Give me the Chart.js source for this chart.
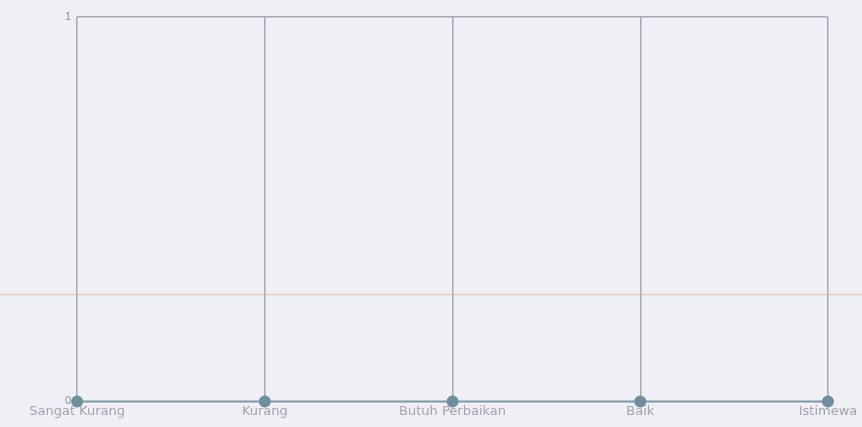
<!DOCTYPE html>
<html>
<head>
<meta charset="utf-8">
<script src="https://cdn.jsdelivr.net/npm/chart.js@4/dist/chart.umd.min.js"></script>
<style>
  html, body { margin: 0; padding: 0; background: #efeff6; }
  #wrap { width: 862px; height: 427px; position: relative; }
</style>
</head>
<body>
<div id="wrap"><canvas id="c"></canvas></div>
<script>
const categories = ['Sangat Kurang', 'Kurang', 'Butuh Perbaikan', 'Baik', 'Istimewa'];
const values = [0, 0, 0, 0, 0];
const yTicks = [0, 1];
const scanLineValue = 0.28;

// faint reddish streak across the whole scan
const scanLine = {
  id: 'scanLine',
  beforeDatasetsDraw(chart) {
    const { ctx, scales: { y } } = chart;
    const py = Math.round(y.getPixelForValue(scanLineValue)) + 0.5;
    ctx.save();
    ctx.strokeStyle = 'rgba(240,170,150,0.55)';
    ctx.lineWidth = 1.5;
    ctx.beginPath();
    ctx.moveTo(0, py);
    ctx.lineTo(chart.width, py);
    ctx.stroke();
    ctx.restore();
  }
};

new Chart(document.getElementById('c'), {
  type: 'line',
  data: {
    labels: categories,
    datasets: [{
      data: values,
      borderColor: '#7f98a6',
      borderWidth: 2,
      backgroundColor: '#6f8f9c',
      pointBackgroundColor: '#6f8f9c',
      pointBorderColor: '#6f8f9c',
      pointRadius: 5,
      tension: 0,
      clip: false,
    }],
  },
  options: {
    responsive: true,
    maintainAspectRatio: false,
    animation: false,
    layout: { padding: { left: 59, right: 34, top: 17, bottom: 6 } },
    scales: {
      x: {
        offset: false,
        grid: { color: '#a3aab2', lineWidth: 1.5, drawTicks: false },
        border: { display: false },
        ticks: { color: '#a2a5ae', font: { family: 'DejaVu Sans', size: 13 }, padding: 2, maxRotation: 0, autoSkip: false },
      },
      y: {
        min: 0,
        max: 1,
        afterBuildTicks: axis => { axis.ticks = yTicks.map(v => ({ value: v })); },
        grid: {
          color: ctx => ctx.tick && ctx.tick.value === 1 ? '#a3aab2' : 'rgba(0,0,0,0)',
          lineWidth: 1.5,
          drawTicks: false,
        },
        border: { display: false },
        ticks: { color: '#8a8c94', font: { family: 'Liberation Sans', size: 11 }, padding: 6 },
      },
    },
    plugins: {
      legend: { display: false },
      tooltip: { enabled: false },
    },
  },
  plugins: [scanLine],
});
</script>
</body>
</html>
